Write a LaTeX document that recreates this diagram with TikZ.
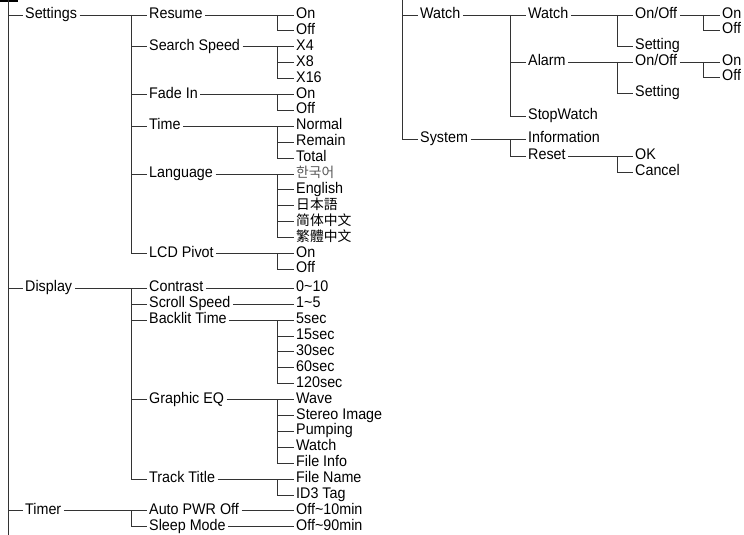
\documentclass[tikz,border=0pt]{standalone}
\usepackage{fontspec}
\setmainfont[FakeStretch=0.93]{Liberation Sans}
\newfontfamily\cjkkr{Noto Sans CJK KR}
\newfontfamily\cjkjp{Noto Sans CJK JP}
\newfontfamily\cjksc{Noto Sans CJK SC}
\newfontfamily\cjktc{Noto Sans CJK TC}
\begin{document}
\begin{tikzpicture}[x=1pt,y=-1pt,
  lbl/.style={anchor=west, inner xsep=2.5pt, inner ysep=0pt, text height=0.716em, text depth=0pt, font=\fontsize{15.4}{17}\selectfont},
  cjk/.style={lbl, font=\fontsize{13.8}{16}\selectfont},
  conn/.style={draw=black!80, line width=0.9pt}]
\useasboundingbox (0,0) rectangle (744,535);
\fill (0,0) rectangle (18,2.5);
% trunk coordinates
\coordinate (L1) at (8,0);
\coordinate (L1b) at (8,535);
\coordinate (L2) at (131,0);
\coordinate (L3) at (277,0);
\coordinate (R1) at (402,0);
\coordinate (R2) at (510,0);
\coordinate (R3) at (617,0);
\coordinate (R4) at (703,0);
% ---------- left: level 1
\node[lbl] (settings) at (22.5,15.0) {Settings};
\node[lbl] (display) at (22.5,288.3) {Display};
\node[lbl] (timer) at (22.5,510.9) {Timer};
% ---------- level 2
\node[lbl] (resume) at (146.5,15.0) {Resume};
\node[lbl] (search) at (146.5,46.8) {Search Speed};
\node[lbl] (fade) at (146.5,94.5) {Fade In};
\node[lbl] (time) at (146.5,126.3) {Time};
\node[lbl] (lang) at (146.5,174.0) {Language};
\node[lbl] (lcd) at (146.5,253.5) {LCD Pivot};
\node[lbl] (contrast) at (146.5,288.3) {Contrast};
\node[lbl] (scroll) at (146.5,304.2) {Scroll Speed};
\node[lbl] (backlit) at (146.5,320.1) {Backlit Time};
\node[lbl] (geq) at (146.5,399.6) {Graphic EQ};
\node[lbl] (track) at (146.5,479.1) {Track Title};
\node[lbl] (apo) at (146.5,510.9) {Auto PWR Off};
\node[lbl] (sleep) at (146.5,526.8) {Sleep Mode};
% ---------- level 3
\node[lbl] (resOn) at (293.5,15.0) {On};
\node[lbl] (resOff) at (293.5,30.9) {Off};
\node[lbl] (x4) at (293.5,46.8) {X4};
\node[lbl] (x8) at (293.5,62.7) {X8};
\node[lbl] (x16) at (293.5,78.6) {X16};
\node[lbl] (fadOn) at (293.5,94.5) {On};
\node[lbl] (fadOff) at (293.5,110.4) {Off};
\node[lbl] (normal) at (293.5,126.3) {Normal};
\node[lbl] (remain) at (293.5,142.2) {Remain};
\node[lbl] (total) at (293.5,158.1) {Total};
\node[cjk,text=black!65] (kor) at (293.5,174.0) {\cjkkr 한국어};
\node[lbl] (eng) at (293.5,189.9) {English};
\node[cjk] (jpn) at (293.5,205.8) {\cjkjp 日本語};
\node[cjk] (chs) at (293.5,221.7) {\cjksc 简体中文};
\node[cjk] (cht) at (293.5,237.6) {\cjktc 繁體中文};
\node[lbl] (lcdOn) at (293.5,253.5) {On};
\node[lbl] (lcdOff) at (293.5,269.4) {Off};
\node[lbl] (c010) at (293.5,288.3) {0\textasciitilde10};
\node[lbl] (s15) at (293.5,304.2) {1\textasciitilde5};
\node[lbl] (b5) at (293.5,320.1) {5sec};
\node[lbl] (b15) at (293.5,336.0) {15sec};
\node[lbl] (b30) at (293.5,351.9) {30sec};
\node[lbl] (b60) at (293.5,367.8) {60sec};
\node[lbl] (b120) at (293.5,383.7) {120sec};
\node[lbl] (wave) at (293.5,399.6) {Wave};
\node[lbl] (stereo) at (293.5,415.5) {Stereo Image};
\node[lbl] (pump) at (293.5,431.4) {Pumping};
\node[lbl] (gwatch) at (293.5,447.3) {Watch};
\node[lbl] (finfo) at (293.5,463.2) {File Info};
\node[lbl] (fname) at (293.5,479.1) {File Name};
\node[lbl] (id3) at (293.5,495.0) {ID3 Tag};
\node[lbl] (o10) at (293.5,510.9) {Off\textasciitilde10min};
\node[lbl] (o90) at (293.5,526.8) {Off\textasciitilde90min};
% ---------- right panel
\node[lbl] (watch) at (417.5,15) {Watch};
\node[lbl] (system) at (417.5,139) {System};
\node[lbl] (wwatch) at (525.5,15) {Watch};
\node[lbl] (alarm) at (525.5,62) {Alarm};
\node[lbl] (stopw) at (525.5,116) {StopWatch};
\node[lbl] (info) at (525.5,139) {Information};
\node[lbl] (reset) at (525.5,156) {Reset};
\node[lbl] (wonoff) at (632.5,15) {On/Off};
\node[lbl] (wset) at (632.5,46) {Setting};
\node[lbl] (aonoff) at (632.5,62) {On/Off};
\node[lbl] (aset) at (632.5,93) {Setting};
\node[lbl] (ok) at (632.5,156) {OK};
\node[lbl] (cancel) at (632.5,172) {Cancel};
\node[lbl] (wOn) at (719.5,15) {On};
\node[lbl] (wOff) at (719.5,30) {Off};
\node[lbl] (aOn) at (719.5,62) {On};
\node[lbl] (aOff) at (719.5,77) {Off};
% ---------- connectors, left
\draw[conn] (L1) -- (L1b);
\foreach \n in {settings,display,timer} \draw[conn] (\n.west -| L1) -- (\n.west);
% Settings
\draw[conn] (settings.east) -- (resume.west);
\draw[conn] (resume.west -| L2) -- (lcd.west -| L2) -- (lcd.west);
\foreach \n in {search,fade,time,lang} \draw[conn] (\n.west -| L2) -- (\n.west);
\draw[conn] (resume.east) -- (resOn.west);
\draw[conn] (resOn.west -| L3) -- (resOff.west -| L3) -- (resOff.west);
\draw[conn] (search.east) -- (x4.west);
\draw[conn] (x4.west -| L3) -- (x16.west -| L3) -- (x16.west);
\draw[conn] (x8.west -| L3) -- (x8.west);
\draw[conn] (fade.east) -- (fadOn.west);
\draw[conn] (fadOn.west -| L3) -- (fadOff.west -| L3) -- (fadOff.west);
\draw[conn] (time.east) -- (normal.west);
\draw[conn] (normal.west -| L3) -- (total.west -| L3) -- (total.west);
\draw[conn] (remain.west -| L3) -- (remain.west);
\draw[conn] (lang.east) -- (kor.west);
\draw[conn] (kor.west -| L3) -- (cht.west -| L3) -- (cht.west);
\foreach \n in {eng,jpn,chs} \draw[conn] (\n.west -| L3) -- (\n.west);
\draw[conn] (lcd.east) -- (lcdOn.west);
\draw[conn] (lcdOn.west -| L3) -- (lcdOff.west -| L3) -- (lcdOff.west);
% Display
\draw[conn] (display.east) -- (contrast.west);
\draw[conn] (contrast.west -| L2) -- (track.west -| L2) -- (track.west);
\foreach \n in {scroll,backlit,geq} \draw[conn] (\n.west -| L2) -- (\n.west);
\draw[conn] (contrast.east) -- (c010.west);
\draw[conn] (scroll.east) -- (s15.west);
\draw[conn] (backlit.east) -- (b5.west);
\draw[conn] (b5.west -| L3) -- (b120.west -| L3) -- (b120.west);
\foreach \n in {b15,b30,b60} \draw[conn] (\n.west -| L3) -- (\n.west);
\draw[conn] (geq.east) -- (wave.west);
\draw[conn] (wave.west -| L3) -- (finfo.west -| L3) -- (finfo.west);
\foreach \n in {stereo,pump,gwatch} \draw[conn] (\n.west -| L3) -- (\n.west);
\draw[conn] (track.east) -- (fname.west);
\draw[conn] (fname.west -| L3) -- (id3.west -| L3) -- (id3.west);
% Timer
\draw[conn] (timer.east) -- (apo.west);
\draw[conn] (apo.west -| L2) -- (sleep.west -| L2) -- (sleep.west);
\draw[conn] (apo.east) -- (o10.west);
\draw[conn] (sleep.east) -- (o90.west);
% ---------- connectors, right
\draw[conn] (R1) -- (system.west -| R1) -- (system.west);
\draw[conn] (watch.west -| R1) -- (watch.west);
\draw[conn] (watch.east) -- (wwatch.west);
\draw[conn] (wwatch.west -| R2) -- (stopw.west -| R2) -- (stopw.west);
\draw[conn] (alarm.west -| R2) -- (alarm.west);
\draw[conn] (wwatch.east) -- (wonoff.west);
\draw[conn] (wonoff.west -| R3) -- (wset.west -| R3) -- (wset.west);
\draw[conn] (wonoff.east) -- (wOn.west);
\draw[conn] (wOn.west -| R4) -- (wOff.west -| R4) -- (wOff.west);
\draw[conn] (alarm.east) -- (aonoff.west);
\draw[conn] (aonoff.west -| R3) -- (aset.west -| R3) -- (aset.west);
\draw[conn] (aonoff.east) -- (aOn.west);
\draw[conn] (aOn.west -| R4) -- (aOff.west -| R4) -- (aOff.west);
\draw[conn] (system.east) -- (info.west);
\draw[conn] (info.west -| R2) -- (reset.west -| R2) -- (reset.west);
\draw[conn] (reset.east) -- (ok.west);
\draw[conn] (ok.west -| R3) -- (cancel.west -| R3) -- (cancel.west);
\end{tikzpicture}
\end{document}
